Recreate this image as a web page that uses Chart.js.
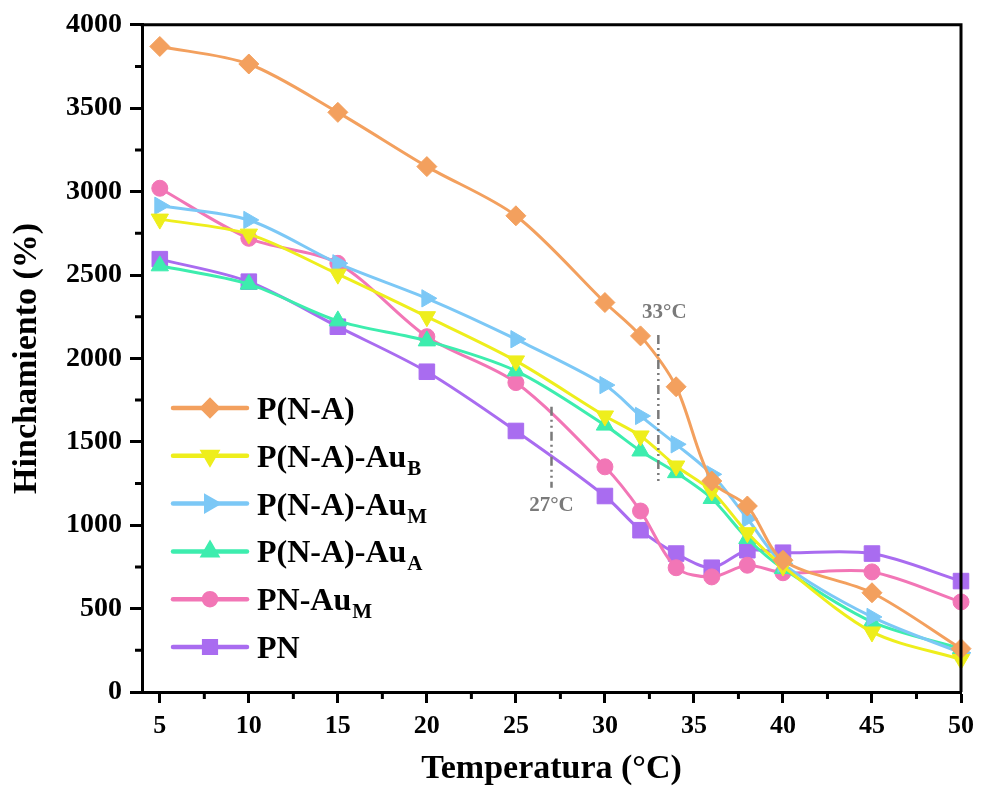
<!DOCTYPE html>
<html>
<head>
<meta charset="utf-8">
<script src="https://cdn.jsdelivr.net/npm/chart.js@4.4.1/dist/chart.umd.min.js"></script>
<style>
  html, body { margin: 0; padding: 0; background: #fff; }
  #wrap { width: 982px; height: 790px; position: relative; }
</style>
</head>
<body>
<div id="wrap"><canvas id="swellChart" width="982" height="790"></canvas></div>
<script>
// temperatures (x) and swelling values
const temps = [5, 10, 15, 20, 25, 30, 32, 34, 36, 38, 40, 45, 50];

const pna     = [3870, 3765, 3475, 3150, 2855, 2335, 2135, 1830, 1265, 1115, 790, 595, 260];
const pnaAuB  = [2835, 2745, 2505, 2250, 1985, 1655, 1535, 1355, 1205, 955, 755, 360, 195];
const pnaAuM  = [2915, 2830, 2570, 2360, 2115, 1840, 1655, 1485, 1305, 1040, 770, 450, 235];
const pnaAuA  = [2555, 2445, 2225, 2105, 1925, 1600, 1445, 1315, 1160, 920, 740, 420, 260];
const pnAuM   = [3020, 2720, 2570, 2130, 1855, 1350, 1085, 745, 690, 760, 715, 720, 540];
const pn      = [2595, 2460, 2190, 1920, 1565, 1175, 970, 830, 745, 850, 835, 830, 665];

// legend names, split in main text + subscript
const seriesNames = ["P(N-A)", "P(N-A)-Au", "P(N-A)-Au", "P(N-A)-Au", "PN-Au", "PN"];
const seriesSubs  = ["", "B", "M", "A", "M", ""];

const xTicks = [5, 10, 15, 20, 25, 30, 35, 40, 45, 50];
const yTicks = [0, 500, 1000, 1500, 2000, 2500, 3000, 3500, 4000];

// vertical LCST markers: temperature, low / high swelling, label
const markTemps = [27, 33];
const markLow   = [1225, 1265];
const markHigh  = [1710, 2140];
const markText  = ["27°C", "33°C"];

const FONT = "'Liberation Serif', 'Times New Roman', serif";

function pts(arr) {
    return arr.map((v, i) => ({ x: temps[i], y: v }));
}

function ds(label, data, color, style, rot, radius) {
    return {
        label: label,
        data: pts(data),
        borderColor: color,
        backgroundColor: color,
        pointBackgroundColor: color,
        pointBorderColor: color,
        pointStyle: style,
        rotation: rot,
        pointRadius: radius,
        pointHoverRadius: radius,
        borderWidth: 3,
        pointBorderWidth: 1,
        tension: 0.3,
        clip: false
    };
}

// minor ticks, top/right frame, markers and the legend
const extras = {
    id: "extras",
    afterDraw(chart) {
        const ctx = chart.ctx;
        const a = chart.chartArea;
        const xs = chart.scales.x;
        const ys = chart.scales.y;
        ctx.save();
        ctx.strokeStyle = "#000";
        ctx.lineWidth = 3;
        ctx.beginPath();
        ctx.moveTo(a.left - 1.5, a.top);
        ctx.lineTo(a.right, a.top);
        ctx.lineTo(a.right, a.bottom);
        ctx.stroke();
        // minor ticks
        ctx.beginPath();
        for (let v = 7.5; v < 50; v += 5) {
            const px = xs.getPixelForValue(v);
            ctx.moveTo(px, a.bottom);
            ctx.lineTo(px, a.bottom + 7);
        }
        for (let v = 250; v < 4000; v += 500) {
            const py = ys.getPixelForValue(v);
            ctx.moveTo(a.left, py);
            ctx.lineTo(a.left - 7, py);
        }
        ctx.stroke();

        // dashed vertical markers
        ctx.strokeStyle = "#7a7a7a";
        ctx.fillStyle = "#7a7a7a";
        ctx.lineWidth = 2.5;
        ctx.setLineDash([9, 4, 2, 4, 2, 4]);
        ctx.font = "bold 21px " + FONT;
        ctx.textAlign = "center";
        ctx.textBaseline = "middle";
        for (let i = 0; i < markTemps.length; i++) {
            const px = xs.getPixelForValue(markTemps[i]);
            const top = ys.getPixelForValue(markHigh[i]);
            const bot = ys.getPixelForValue(markLow[i]);
            ctx.beginPath();
            ctx.moveTo(px, top);
            ctx.lineTo(px, bot);
            ctx.stroke();
            if (i == 0) {
                ctx.fillText(markText[i], px, bot + 18);
            } else {
                ctx.fillText(markText[i], px + 6, top - 22);
            }
        }
        ctx.setLineDash([]);

        // legend with subscripts
        const rowTop = 408;
        const rowGap = 47.8;
        chart.data.datasets.forEach((d, i) => {
            const y = rowTop + i * rowGap;
            ctx.strokeStyle = d.borderColor;
            ctx.lineWidth = 4.5;
            ctx.lineCap = "round";
            ctx.beginPath();
            ctx.moveTo(173, y);
            ctx.lineTo(247, y);
            ctx.stroke();
            ctx.lineCap = "butt";
            ctx.fillStyle = d.borderColor;
            Chart.helpers.drawPoint(ctx, {
                pointStyle: d.pointStyle,
                rotation: d.rotation,
                radius: d.pointRadius * 0.75,
                borderWidth: 1
            }, 210, y);
            ctx.fillStyle = "#000";
            ctx.textAlign = "left";
            ctx.textBaseline = "alphabetic";
            ctx.font = "bold 32px " + FONT;
            ctx.fillText(seriesNames[i], 257, y + 11);
            if (seriesSubs[i]) {
                const w = ctx.measureText(seriesNames[i]).width;
                ctx.font = "bold 21px " + FONT;
                ctx.fillText(seriesSubs[i], 257 + w + 1, y + 19);
            }
        });
        ctx.restore();
    }
};

const ctx = document.getElementById("swellChart").getContext("2d");
const chart = new Chart(ctx, {
    type: "line",
    data: {
        datasets: [
            ds("P(N-A)", pna, "#F3A05E", "rectRot", 0, 10),
            ds("P(N-A)-AuB", pnaAuB, "#EEEE1C", "triangle", 180, 10),
            ds("P(N-A)-AuM", pnaAuM, "#7CC8F6", "triangle", 90, 10),
            ds("P(N-A)-AuA", pnaAuA, "#3DEDAE", "triangle", 0, 10),
            ds("PN-AuM", pnAuM, "#F276B6", "circle", 0, 8),
            ds("PN", pn, "#A96CF0", "rect", 0, 11)
        ]
    },
    options: {
        responsive: false,
        animation: false,
        layout: { padding: { top: 24, right: 19, left: 0, bottom: 0 } },
        plugins: {
            legend: { display: false },
            tooltip: { enabled: false }
        },
        scales: {
            x: {
                type: "linear",
                min: 4,
                max: 50,
                afterBuildTicks: (s) => { s.ticks = xTicks.map(v => ({ value: v })); },
                afterFit: (s) => { s.height = 98; },
                grid: { drawOnChartArea: false, tickLength: 11, tickWidth: 3, tickColor: "#000" },
                border: { color: "#000", width: 3 },
                ticks: {
                    color: "#000",
                    padding: 8,
                    font: { family: FONT, size: 26, weight: "bold" },
                    maxRotation: 0,
                    callback: (v) => String(v)
                },
                title: {
                    display: true,
                    text: "Temperatura (°C)",
                    color: "#000",
                    font: { family: FONT, size: 34, weight: "bold", lineHeight: 1.2 },
                    padding: { top: 0, bottom: 0 }
                }
            },
            y: {
                min: 0,
                max: 4000,
                afterBuildTicks: (s) => { s.ticks = yTicks.map(v => ({ value: v })); },
                afterFit: (s) => { s.width = 142; },
                grid: { drawOnChartArea: false, tickLength: 12, tickWidth: 3, tickColor: "#000" },
                border: { color: "#000", width: 3 },
                ticks: {
                    color: "#000",
                    padding: 8,
                    font: { family: FONT, size: 28, weight: "bold" },
                    callback: (v) => String(v)
                },
                title: {
                    display: true,
                    text: "Hinchamiento (%)",
                    color: "#000",
                    font: { family: FONT, size: 34, weight: "bold", lineHeight: 1.2 },
                    padding: { top: 7, bottom: 0 }
                }
            }
        }
    },
    plugins: [extras]
});
</script>
</body>
</html>
